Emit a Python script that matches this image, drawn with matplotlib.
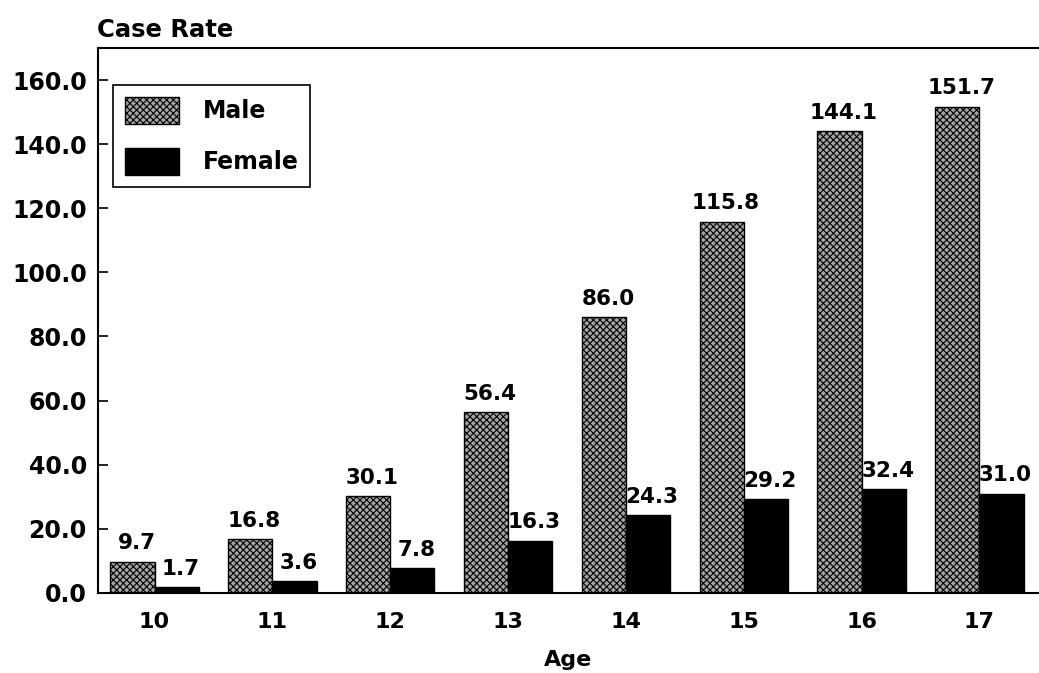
import numpy as np
import matplotlib.pyplot as plt

plt.rcParams['font.family'] = ['DejaVu Sans']
plt.rcParams['hatch.linewidth'] = 0.8

ages = ['10', '11', '12', '13', '14', '15', '16', '17']
male = [9.7, 16.8, 30.1, 56.4, 86.0, 115.8, 144.1, 151.7]
female = [1.7, 3.6, 7.8, 16.3, 24.3, 29.2, 32.4, 31.0]

x = np.arange(len(ages))
w = 0.375

fig = plt.figure(figsize=(10.39, 6.73), dpi=100)
ax = fig.add_axes([0.0943, 0.119, 0.905, 0.8097])

mb = ax.bar(x - w / 2, male, w, facecolor='#a4a4a4', edgecolor='black',
            hatch='xxxxx', linewidth=1.0, label='Male')
fb = ax.bar(x + w / 2, female, w, facecolor='black', edgecolor='black',
            linewidth=1.0, label='Female')

# value labels sit just above each bar, nudged a little to the right
for bars, vals in ((mb, male), (fb, female)):
    for b, v in zip(bars, vals):
        ax.annotate(f'{v:.1f}', (b.get_x() + b.get_width() / 2, v),
                    xytext=(3, 6), textcoords='offset points',
                    ha='center', va='bottom', fontsize=15.5, fontweight='bold')

ax.set_xlim(-0.48, 7.5)
ax.set_ylim(0, 170)
ax.set_yticks(np.arange(0, 161, 20))
ax.set_yticklabels([f'{t:.1f}' for t in np.arange(0, 161, 20)],
                   fontsize=17, fontweight='bold')
ax.set_xticks(x)
ax.set_xticklabels(ages, fontsize=16, fontweight='bold')
ax.tick_params(axis='y', direction='in', length=7, width=1.2, pad=8)
ax.tick_params(axis='x', length=0, pad=14)

for s in ('left', 'bottom', 'top'):
    ax.spines[s].set_linewidth(1.5)
ax.spines['right'].set_visible(False)

ax.set_xlabel('Age', fontsize=16, fontweight='bold', labelpad=13)
fig.text(0.093, 0.955, 'Case Rate', fontsize=17.5, fontweight='bold',
         ha='left', va='center')

leg = ax.legend(loc='upper left', bbox_to_anchor=(0.016, 0.932),
                borderaxespad=0, prop={'weight': 'bold', 'size': 17},
                fancybox=False, edgecolor='black', framealpha=1,
                handlelength=2.3, handleheight=1.4, labelspacing=1.0,
                borderpad=0.5, handletextpad=1.0)
leg.get_frame().set_linewidth(1.2)

fig.savefig('out.png', dpi=100)
